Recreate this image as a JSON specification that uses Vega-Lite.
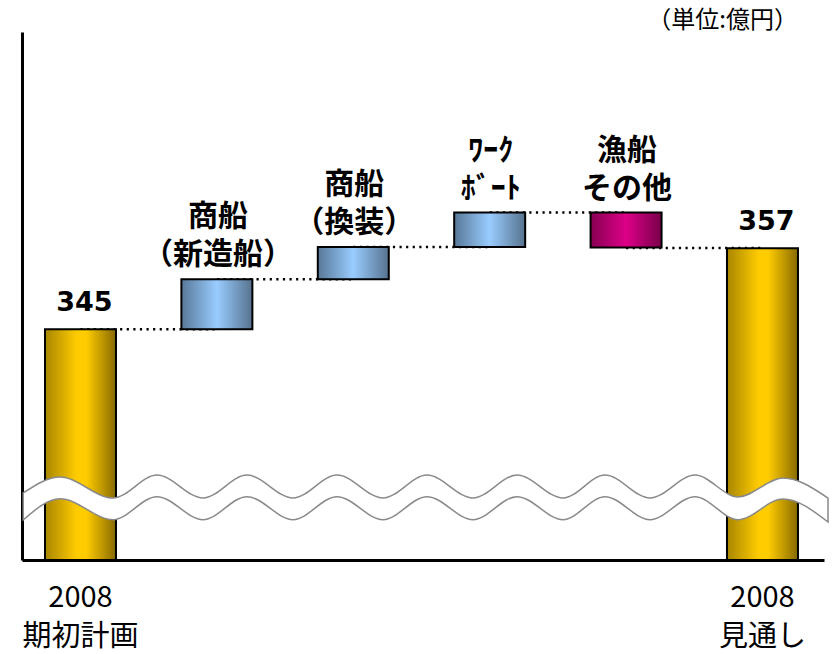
{
  "$schema": "https://vega.github.io/schema/vega-lite/v6.json",
  "width": 802,
  "height": 528,
  "autosize": "none",
  "padding": {"left": 22, "top": 32, "right": 9, "bottom": 94},
  "background": "white",
  "config": {
    "view": {"stroke": null},
    "axis": {"domainColor": "black", "domainWidth": 3, "ticks": false, "grid": false, "zindex": 1},
    "axisY": {"labels": false}
  },
  "title": {
    "text": "（単位:億円）",
    "anchor": "end",
    "frame": "group",
    "orient": "top",
    "offset": 0,
    "dx": -26,
    "dy": 25,
    "fontSize": 24,
    "font": "Noto Sans CJK JP",
    "fontWeight": "normal",
    "color": "black",
    "baseline": "bottom"
  },
  "datasets": {
    "steps": [
      {"cat": "2008\n期初計画", "start": null, "end": 345, "type": "total"},
      {"cat": "商船\n（新造船）", "start": 345, "end": 352.4, "type": "up"},
      {"cat": "商船\n（換装）", "start": 352.4, "end": 357.2, "type": "up"},
      {"cat": "ﾜｰｸ\nﾎﾞｰﾄ", "start": 357.2, "end": 362.3, "type": "up"},
      {"cat": "漁船\nその他", "start": 362.3, "end": 357.1, "type": "down"},
      {"cat": "2008\n見通し", "start": null, "end": 357, "type": "total"}
    ],
    "links": [
      {"from": "2008\n期初計画", "to": "商船\n（新造船）", "level": 345},
      {"from": "商船\n（新造船）", "to": "商船\n（換装）", "level": 352.4},
      {"from": "商船\n（換装）", "to": "ﾜｰｸ\nﾎﾞｰﾄ", "level": 357.2},
      {"from": "ﾜｰｸ\nﾎﾞｰﾄ", "to": "漁船\nその他", "level": 362.3},
      {"from": "漁船\nその他", "to": "2008\n見通し", "level": 357.05}
    ],
    "wave": [
      {"pos": 0.15, "top": 320.75, "bot": 316.75},
      {"pos": 4.74, "top": 323.12, "bot": 319.9},
      {"pos": 11.35, "top": 320.0, "bot": 316.8},
      {"pos": 16.83, "top": 323.4, "bot": 320.2},
      {"pos": 22.57, "top": 320.0, "bot": 316.8},
      {"pos": 28.05, "top": 323.4, "bot": 320.2},
      {"pos": 33.79, "top": 320.0, "bot": 316.8},
      {"pos": 39.28, "top": 323.4, "bot": 320.2},
      {"pos": 45.01, "top": 320.0, "bot": 316.8},
      {"pos": 50.5, "top": 323.4, "bot": 320.2},
      {"pos": 56.23, "top": 320.0, "bot": 316.8},
      {"pos": 61.72, "top": 323.4, "bot": 320.2},
      {"pos": 67.46, "top": 320.0, "bot": 316.8},
      {"pos": 72.69, "top": 323.4, "bot": 320.2},
      {"pos": 78.3, "top": 320.0, "bot": 316.8},
      {"pos": 83.92, "top": 323.4, "bot": 320.2},
      {"pos": 89.28, "top": 320.16, "bot": 316.8},
      {"pos": 94.89, "top": 322.97, "bot": 319.86},
      {"pos": 100.5, "top": 320.0, "bot": 316.45}
    ]
  },
  "layer": [
    {
      "layer": [
        {
          "data": {"name": "links"},
          "mark": {"type": "rule", "color": "black", "strokeWidth": 2.5, "strokeDash": [2.2, 4.4]},
          "encoding": {
            "x": {"field": "from", "type": "nominal", "title": null},
            "x2": {"field": "to"},
            "y": {"field": "level", "type": "quantitative", "title": null, "scale": {"domain": [310.82, 389.04], "nice": false, "zero": false}}
          }
        },
        {
          "data": {"name": "steps"},
          "transform": [{"filter": "datum.type === 'total'"}],
          "mark": {
            "type": "bar",
            "stroke": "black",
            "strokeWidth": 2,
            "fill": {"gradient": "linear", "x1": 0, "y1": 0, "x2": 1, "y2": 0,
              "stops": [{"offset": 0, "color": "#A88600"}, {"offset": 0.45, "color": "#FFCC00"}, {"offset": 0.58, "color": "#FFCC00"}, {"offset": 1, "color": "#876A00"}]}
          },
          "encoding": {
            "x": {
              "field": "cat", "type": "nominal", "title": null,
              "scale": {"domain": ["2008\n期初計画", "商船\n（新造船）", "商船\n（換装）", "ﾜｰｸ\nﾎﾞｰﾄ", "漁船\nその他", "2008\n見通し"], "paddingInner": 0.4795, "paddingOuter": 0.1797, "align": 0.469},
              "axis": {
                "labelExpr": "indexof(datum.label, '2008') == 0 ? split(datum.label, '\\n') : ''",
                "labelAngle": 0,
                "labelAlign": "center",
                "labelFont": "Noto Sans CJK JP",
                "labelFontSize": 29,
                "labelLineHeight": 39,
                "labelColor": "black",
                "labelPadding": 37,
                "labelOverlap": false,
                "labelLimit": 300
              }
            },
            "y": {"field": "end", "type": "quantitative", "title": null, "scale": {"domain": [310.82, 389.04], "nice": false, "zero": false}},
            "y2": {"datum": 310.82}
          }
        },
        {
          "data": {"name": "steps"},
          "transform": [{"filter": "datum.type === 'up'"}],
          "mark": {
            "type": "bar",
            "stroke": "black",
            "strokeWidth": 2,
            "fill": {"gradient": "linear", "x1": 0, "y1": 0, "x2": 1, "y2": 0,
              "stops": [{"offset": 0, "color": "#587898"}, {"offset": 0.5, "color": "#99CCFF"}, {"offset": 1, "color": "#56728E"}]}
          },
          "encoding": {
            "x": {"field": "cat", "type": "nominal", "title": null},
            "y": {"field": "start", "type": "quantitative", "title": null},
            "y2": {"field": "end"}
          }
        },
        {
          "data": {"name": "steps"},
          "transform": [{"filter": "datum.type === 'down'"}],
          "mark": {
            "type": "bar",
            "stroke": "black",
            "strokeWidth": 2,
            "fill": {"gradient": "linear", "x1": 0, "y1": 0, "x2": 1, "y2": 0,
              "stops": [{"offset": 0, "color": "#860052"}, {"offset": 0.5, "color": "#DD0088"}, {"offset": 1, "color": "#780049"}]}
          },
          "encoding": {
            "x": {"field": "cat", "type": "nominal", "title": null},
            "y": {"field": "start", "type": "quantitative", "title": null},
            "y2": {"field": "end"}
          }
        },
        {
          "data": {"name": "steps"},
          "transform": [{"filter": "datum.type === 'total'"}],
          "mark": {"type": "text", "font": "DejaVu Sans", "fontWeight": "bold", "fontSize": 27, "baseline": "alphabetic", "dy": -18, "dx": 4, "color": "black"},
          "encoding": {
            "x": {"field": "cat", "type": "nominal", "title": null},
            "y": {"field": "end", "type": "quantitative", "title": null},
            "text": {"field": "end", "type": "quantitative"}
          }
        },
        {
          "data": {"name": "steps"},
          "transform": [{"filter": "datum.type !== 'total'"}, {"calculate": "max(datum.start, datum.end)", "as": "topv"}],
          "mark": {"type": "text", "font": "Noto Sans CJK JP", "fontWeight": "bold", "fontSize": 30, "lineHeight": 38, "lineBreak": "\n", "baseline": "bottom", "dy": -47, "dx": 1, "color": "black"},
          "encoding": {
            "x": {"field": "cat", "type": "nominal", "title": null},
            "y": {"field": "topv", "type": "quantitative", "title": null},
            "text": {"field": "cat", "type": "nominal"}
          }
        }
      ]
    },
    {
      "data": {"name": "wave"},
      "mark": {"type": "area", "interpolate": "monotone", "fill": "white", "stroke": "#8a8a8a", "strokeWidth": 1.5},
      "encoding": {
        "x": {"field": "pos", "type": "quantitative", "scale": {"domain": [0, 100], "nice": false, "zero": false}, "axis": null},
        "y": {"field": "top", "type": "quantitative", "title": null},
        "y2": {"field": "bot"}
      }
    }
  ],
  "resolve": {"scale": {"x": "independent"}}
}
